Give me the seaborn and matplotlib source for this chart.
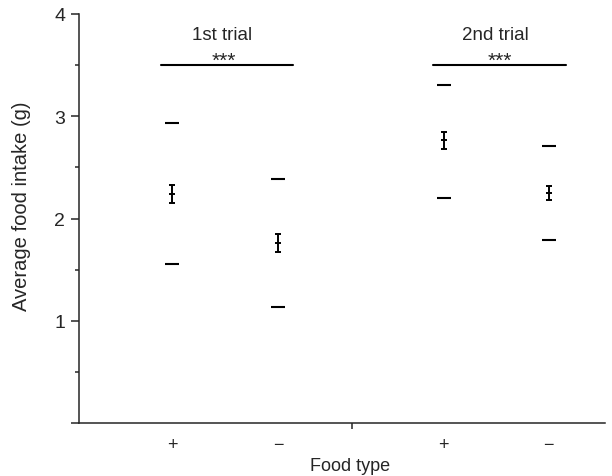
import pandas as pd
import seaborn as sns
import matplotlib.pyplot as plt

sns.set_style('ticks')
plt.rcParams['font.family'] = ['Liberation Sans', 'DejaVu Sans']

# groups: 1st trial (+, -), 2nd trial (+, -)
labels = ['+', '\u2212', '+', '\u2212']
pos = [1, 2, 3.56, 4.55]
mean = [2.24, 1.76, 2.765, 2.25]
se = [0.09, 0.087, 0.083, 0.07]
upper = [2.93, 2.386, 3.31, 2.706]
lower = [1.555, 1.13, 2.20, 1.79]
trials = ['1st trial', '2nd trial']
sig = ['***', '***']

dash = pd.DataFrame({'x': pos * 2, 'y': upper + lower})

fig, ax = plt.subplots(figsize=(6.12, 4.77), dpi=100)
fig.subplots_adjust(left=0.129, right=0.989, bottom=0.111, top=0.9686)

sns.scatterplot(data=dash, x='x', y='y', marker='_', s=100, color='black',
                linewidth=1.5, ax=ax, legend=False)
ax.errorbar(pos, mean, yerr=se, fmt='_', color='black', markersize=5,
            capsize=2.5, elinewidth=1.4, capthick=1.4, markeredgewidth=1.4)

# significance bars
ax.plot([0.896, 2.14], [3.5, 3.5], color='black', lw=1.5)
ax.plot([3.46, 4.717], [3.5, 3.5], color='black', lw=1.5)
ax.text(1.49, 3.545, sig[0], ha='center', va='center', fontsize=15)
ax.text(4.09, 3.545, sig[1], ha='center', va='center', fontsize=15)
ax.text(1.47, 3.8, trials[0], ha='center', va='center', fontsize=13.5)
ax.text(4.05, 3.8, trials[1], ha='center', va='center', fontsize=13.5)

ax.set_xlim(0.123, 5.085)
ax.set_ylim(0, 4)
ax.set_yticks([0, 1, 2, 3, 4])
ax.set_yticklabels(['', '1', '2', '3', '4'])
ax.set_yticks([0.5, 1.5, 2.5, 3.5], minor=True)
ax.tick_params(axis='y', which='major', length=6, width=1.1, pad=4, labelsize=14)
ax.tick_params(axis='y', which='minor', length=3, width=1.1)
ax.set_xticks(pos)
ax.set_xticklabels(labels)
ax.set_xticks([2.698], minor=True)
ax.tick_params(axis='x', which='major', length=0, pad=9, labelsize=13)
ax.tick_params(axis='x', which='minor', length=4, width=1.1)

for s in ['top', 'right']:
    ax.spines[s].set_visible(False)
for s in ['left', 'bottom']:
    ax.spines[s].set_linewidth(1.1)

ax.set_xlabel('Food type', fontsize=13)
ax.set_ylabel('Average food intake (g)', fontsize=14.5)
ax.xaxis.set_label_coords(0.515, -0.082)
ax.yaxis.set_label_coords(-0.092, 0.532)

fig.savefig('out.png', dpi=100)
